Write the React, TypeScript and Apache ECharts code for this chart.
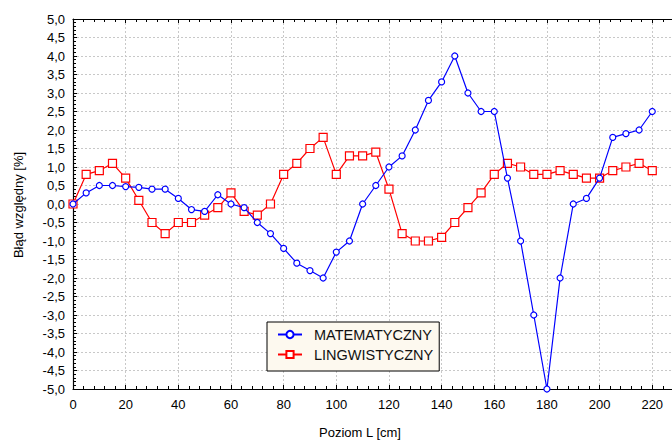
import React, { useEffect, useRef } from "react";
import * as echarts from "echarts";

const poziom = [0, 5, 10, 15, 20, 25, 30, 35, 40, 45, 50, 55, 60, 65, 70, 75, 80, 85, 90, 95, 100, 105, 110, 115, 120, 125, 130, 135, 140, 145, 150, 155, 160, 165, 170, 175, 180, 185, 190, 195, 200, 205, 210, 215, 220];
const matematyczny = [0, 0.3, 0.5, 0.5, 0.47, 0.45, 0.4, 0.4, 0.15, -0.15, -0.2, 0.25, 0.0, -0.1, -0.5, -0.8, -1.2, -1.6, -1.8, -2.0, -1.3, -1.0, 0.0, 0.5, 1.0, 1.3, 2.0, 2.8, 3.3, 4.0, 3.0, 2.5, 2.5, 0.7, -1.0, -3.0, -5.0, -2.0, 0.0, 0.15, 0.7, 1.8, 1.9, 2.0, 2.5];
const lingwistyczny = [0, 0.8, 0.9, 1.1, 0.7, 0.1, -0.5, -0.8, -0.5, -0.5, -0.3, -0.1, 0.3, -0.2, -0.3, 0.0, 0.8, 1.1, 1.5, 1.8, 0.8, 1.3, 1.3, 1.4, 0.4, -0.8, -1.0, -1.0, -0.9, -0.5, -0.1, 0.3, 0.8, 1.1, 1.0, 0.8, 0.8, 0.9, 0.8, 0.7, 0.7, 0.9, 1.0, 1.1, 0.9];
const seriesNames = ["MATEMATYCZNY", "LINGWISTYCZNY"];
const xTitle = "Poziom L [cm]";
const yTitle = "Błąd względny [%]";

const FONT = "'Liberation Sans', Arial, sans-serif";

export default function App() {
  const ref = useRef<HTMLDivElement>(null);
  useEffect(() => {
    if (!ref.current) return;
    const chart = echarts.init(ref.current, undefined, { renderer: "svg" });
    const gridLine = { show: true, lineStyle: { color: "#c8c8c8", type: [2, 2] as any, width: 1 } };
    const xCommon = {
      type: "value" as const,
      min: 0,
      max: 227.5,
      interval: 20,
      axisLine: { show: true, onZero: false, lineStyle: { color: "#000", width: 1.2 } },
      axisTick: { show: true, inside: true, length: 4, lineStyle: { color: "#000" } },
      minorTick: { show: true, splitNumber: 5, length: 3, lineStyle: { color: "#000" } },
    };
    chart.setOption({
      animation: false,
      backgroundColor: "#fff",
      grid: { left: 73, right: 0, top: 19, bottom: 52, containLabel: false },
      textStyle: { fontFamily: FONT },
      legend: {
        left: 267,
        top: 322,
        orient: "vertical",
        backgroundColor: "#fdf9ef",
        borderColor: "#000",
        borderWidth: 1,
        borderRadius: 0,
        padding: [5, 6, 9, 10],
        itemGap: 5,
        itemWidth: 24,
        itemHeight: 9,
        data: seriesNames,
        textStyle: { fontSize: 14.5, color: "#111", fontFamily: FONT, padding: [0, 0, 0, 7] },
      },
      xAxis: [
        {
          ...xCommon,
          position: "bottom",
          axisLabel: {
            show: true,
            margin: 9,
            fontSize: 13,
            color: "#000",
            fontFamily: FONT,
            showMaxLabel: false,
            formatter: (v: number) => (v % 20 === 0 ? String(v) : ""),
          },
          splitLine: gridLine,
        },
        {
          ...xCommon,
          position: "top",
          axisLabel: { show: false },
          splitLine: { show: false },
        },
      ],
      yAxis: {
        type: "value",
        min: -5,
        max: 5,
        interval: 0.5,
        axisLine: { show: true, onZero: false, lineStyle: { color: "#000", width: 1.2 } },
        axisTick: { show: true, inside: true, length: 4, lineStyle: { color: "#000" } },
        minorTick: { show: true, splitNumber: 5, length: 3, lineStyle: { color: "#000" } },
        axisLabel: {
          margin: 8,
          fontSize: 13,
          color: "#000",
          fontFamily: FONT,
          formatter: (v: number) => v.toFixed(1).replace(".", ","),
        },
        splitLine: gridLine,
      },
      series: [
        {
          name: seriesNames[0],
          type: "line",
          data: poziom.map((x, i) => [x, matematyczny[i]]),
          symbol: "circle",
          symbolSize: 6,
          showAllSymbol: true,
          lineStyle: { color: "#0000ff", width: 1.2 },
          itemStyle: { color: "#ffffff", borderColor: "#0000ff", borderWidth: 1.2 },
          z: 3,
        },
        {
          name: seriesNames[1],
          type: "line",
          data: poziom.map((x, i) => [x, lingwistyczny[i]]),
          symbol: "rect",
          symbolSize: 8,
          showAllSymbol: true,
          lineStyle: { color: "#ff0000", width: 1.2 },
          itemStyle: { color: "#ffffff", borderColor: "#ff0000", borderWidth: 1.2 },
          z: 2,
        },
      ],
      graphic: [
        {
          type: "text",
          x: 360,
          y: 432,
          style: { text: xTitle, fontSize: 13, fill: "#000", fontFamily: FONT, align: "center", verticalAlign: "middle" },
        },
        {
          type: "text",
          x: 18,
          y: 205,
          rotation: Math.PI / 2,
          style: { text: yTitle, fontSize: 13, fill: "#000", fontFamily: FONT, align: "center", verticalAlign: "middle" },
        },
      ],
    });
    return () => chart.dispose();
  }, []);
  return <div ref={ref} style={{ width: 672, height: 441, position: "absolute", left: 0, top: 0 }} />;
}
